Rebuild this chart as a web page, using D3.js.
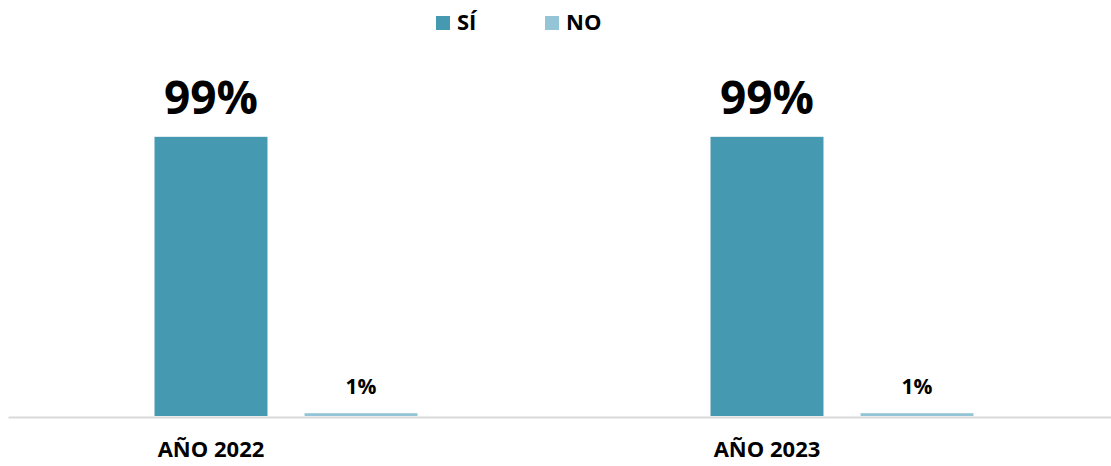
<!DOCTYPE html>
<html>
<head>
<meta charset="utf-8">
<script src="https://cdn.jsdelivr.net/npm/d3@7"></script>
<style>
  body { margin: 0; background: #fff; }
  svg { display: block; font-family: "Open Sans", sans-serif; font-weight: bold; }
</style>
</head>
<body>
<div id="chart"></div>
<script>
// données
const categories = ['AÑO 2022', 'AÑO 2023']
const series = ['SÍ', 'NO']
const valuesSi = [0.99, 0.99]
const valuesNo = [0.01, 0.01]
const colors = ['#4599b1', '#93c5d7']

const width = 1111
const height = 466

const svg = d3.select('#chart')
  .append('svg')
  .attr('width', width)
  .attr('height', height)

const x0 = d3.scaleBand()
  .domain(categories)
  .range([8, 1120])
  .paddingInner(0.527)
  .paddingOuter(0.2635)

const x1 = d3.scaleBand()
  .domain(series)
  .range([0, x0.bandwidth()])
  .paddingInner(0.247)

const y = d3.scaleLinear()
  .domain([0, 1])
  .range([416, 134])

const color = d3.scaleOrdinal().domain(series).range(colors)

const rows = categories.map((c, i) => ({
  cat: c,
  vals: [
    { key: 'SÍ', v: valuesSi[i] },
    { key: 'NO', v: valuesNo[i] }
  ]
}))

// axe horizontal
const axis = svg.append('g')
  .attr('transform', `translate(0,${y(0) + 1})`)
  .call(d3.axisBottom(x0).tickSize(0).tickPadding(0))

axis.select('.domain')
  .attr('stroke', '#d9d9d9')
  .attr('stroke-width', 2)

axis.selectAll('.tick text')
  .attr('fill', '#000')
  .attr('font-size', 22)
  .attr('font-family', '"Open Sans", sans-serif')
  .attr('font-weight', 'bold')
  .attr('dy', 0)
  .attr('y', 40)
  .attr('dx', -x0.bandwidth() / 2 + x1('SÍ') + x1.bandwidth() / 2)

// barres
const groups = svg.selectAll('.group')
  .data(rows)
  .enter()
  .append('g')
  .attr('class', 'group')
  .attr('transform', d => `translate(${x0(d.cat)},0)`)

groups.selectAll('rect')
  .data(d => d.vals)
  .enter()
  .append('rect')
  .attr('x', d => x1(d.key))
  .attr('y', d => y(d.v))
  .attr('width', x1.bandwidth())
  .attr('height', d => y(0) - y(d.v))
  .attr('fill', d => color(d.key))

// étiquettes de valeur
groups.selectAll('.val')
  .data(d => d.vals)
  .enter()
  .append('text')
  .attr('class', 'val')
  .attr('x', d => x1(d.key) + x1.bandwidth() / 2)
  .attr('y', d => d.v > 0.5 ? y(d.v) - 23 : y(d.v) - 19)
  .attr('text-anchor', 'middle')
  .attr('font-size', d => d.v > 0.5 ? 46 : 21)
  .attr('fill', '#000')
  .text(d => Math.round(d.v * 100) + '%')

// légende
const legendX = [436, 545]
const legend = svg.selectAll('.legend')
  .data(series)
  .enter()
  .append('g')
  .attr('class', 'legend')
  .attr('transform', (d, i) => `translate(${legendX[i]},16)`)

legend.append('rect')
  .attr('width', 14)
  .attr('height', 14)
  .attr('fill', d => color(d))

legend.append('text')
  .attr('x', 21)
  .attr('y', 14)
  .attr('font-size', 22)
  .attr('fill', '#000')
  .text(d => d)
</script>
</body>
</html>
